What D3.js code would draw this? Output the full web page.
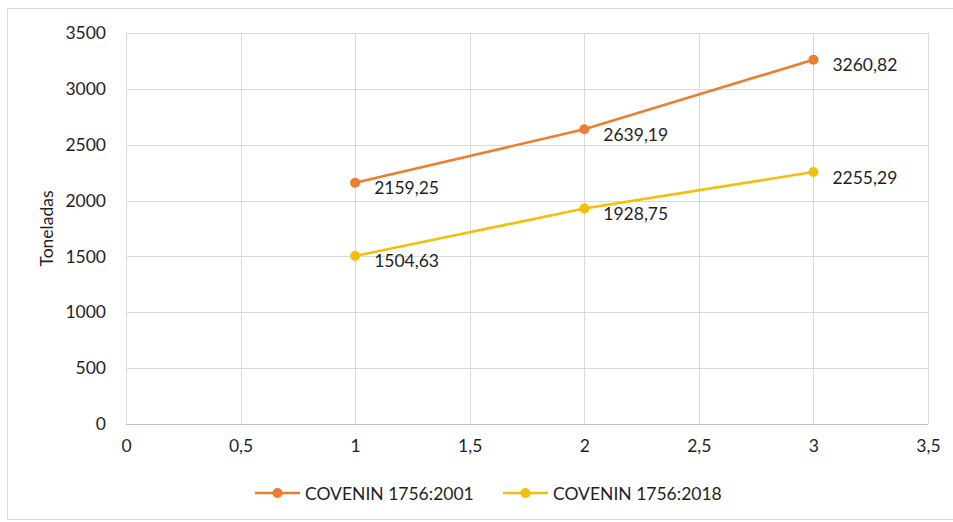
<!DOCTYPE html>
<html>
<head>
<meta charset="utf-8">
<script src="https://cdn.jsdelivr.net/npm/d3@7"></script>
<style>
  html, body { margin: 0; padding: 0; background: #fff; }
  svg { display: block; font-family: "Lato", "Open Sans", sans-serif; }
</style>
</head>
<body>
<svg id="chart" width="953" height="522"></svg>
<script>
// Tonnage per case for each COVENIN 1756 edition
const xValues = [1, 2, 3];
const series2001 = [2159.25, 2639.19, 3260.82];
const series2018 = [1504.63, 1928.75, 2255.29];
const seriesNames = ["COVENIN 1756:2001", "COVENIN 1756:2018"];
const seriesColors = ["#ED7D31", "#F5BE0B"];
const xTicks = [0, 0.5, 1, 1.5, 2, 2.5, 3, 3.5];
const yTicks = [0, 500, 1000, 1500, 2000, 2500, 3000, 3500];
const yTitle = "Toneladas";

const svg = d3.select("#chart");
const W = 953, H = 522;
const FONT = "Lato, 'Open Sans', sans-serif";
const FS = 17.5;
const TXT = "#1f1f1f";
const margin = { left: 126, top: 33, right: W - 928, bottom: H - 424 };

// outer chart frame
svg.append("rect")
  .attr("x", 7.5).attr("y", 8.5)
  .attr("width", W).attr("height", 511)
  .attr("fill", "#fff").attr("stroke", "#d9d9d9").attr("stroke-width", 1);

const x = d3.scaleLinear().domain([0, 3.5]).range([margin.left, W - margin.right]);
const y = d3.scaleLinear().domain([0, 3500]).range([H - margin.bottom, margin.top]);

const fmt = v => String(v).replace(".", ",");
const fmt2 = v => v.toFixed(2).replace(".", ",");

// gridlines
const grid = svg.append("g");
grid.selectAll(".hg").data(yTicks).join("line")
  .attr("x1", x(0)).attr("x2", x(3.5))
  .attr("y1", d => Math.round(y(d)) + 0.5).attr("y2", d => Math.round(y(d)) + 0.5)
  .attr("stroke", d => d === 0 ? "#bfbfbf" : "#d9d9d9").attr("stroke-width", 1);
grid.selectAll(".vg").data(xTicks).join("line")
  .attr("y1", y(0)).attr("y2", y(3500))
  .attr("x1", d => Math.round(x(d)) + 0.5).attr("x2", d => Math.round(x(d)) + 0.5)
  .attr("stroke", "#d9d9d9").attr("stroke-width", 1);

// axes (labels only)
const yAxis = svg.append("g")
  .attr("transform", `translate(${x(0) - 17},0)`)
  .call(d3.axisLeft(y).tickValues(yTicks).tickSize(0).tickFormat(fmt));
yAxis.select(".domain").remove();
yAxis.selectAll("text").attr("font-size", FS).attr("fill", TXT)
  .attr("font-family", FONT);

const xAxis = svg.append("g")
  .attr("transform", `translate(0,${y(0) + 13})`)
  .call(d3.axisBottom(x).tickValues(xTicks).tickSize(0).tickFormat(fmt));
xAxis.select(".domain").remove();
xAxis.selectAll("text").attr("font-size", FS).attr("fill", TXT)
  .attr("font-family", FONT);

// y-axis title
svg.append("text")
  .attr("transform", `translate(53,${(y(0) + y(3500)) / 2}) rotate(-90)`)
  .attr("text-anchor", "middle")
  .attr("font-size", FS).attr("fill", TXT)
  .text(yTitle);

// series
const allSeries = [series2001, series2018];
const line = d3.line().x((d, i) => x(xValues[i])).y(d => y(d));

allSeries.forEach((vals, s) => {
  const g = svg.append("g");
  g.append("path").datum(vals)
    .attr("d", line)
    .attr("fill", "none")
    .attr("stroke", seriesColors[s])
    .attr("stroke-width", 2.6)
    .attr("stroke-linecap", "round");
  g.selectAll("circle").data(vals).join("circle")
    .attr("cx", (d, i) => x(xValues[i])).attr("cy", d => y(d))
    .attr("r", 5).attr("fill", seriesColors[s]);
  g.selectAll("text").data(vals).join("text")
    .attr("x", (d, i) => x(xValues[i]) + 19)
    .attr("y", d => y(d) + 5)
    .attr("dominant-baseline", "central")
    .attr("font-size", FS).attr("fill", TXT)
    .text(fmt2);
});

// legend
const legendItems = [{ x: 255 }, { x: 503 }];
legendItems.forEach((it, s) => {
  const g = svg.append("g").attr("transform", `translate(${it.x},493)`);
  g.append("line").attr("x1", 0).attr("x2", 45).attr("y1", 0).attr("y2", 0)
    .attr("stroke", seriesColors[s]).attr("stroke-width", 2.6);
  g.append("circle").attr("cx", 22.5).attr("cy", 0).attr("r", 5).attr("fill", seriesColors[s]);
  g.append("text").attr("x", 50).attr("y", 0)
    .attr("dominant-baseline", "central")
    .attr("font-size", FS).attr("fill", TXT)
    .text(seriesNames[s]);
});
</script>
</body>
</html>
